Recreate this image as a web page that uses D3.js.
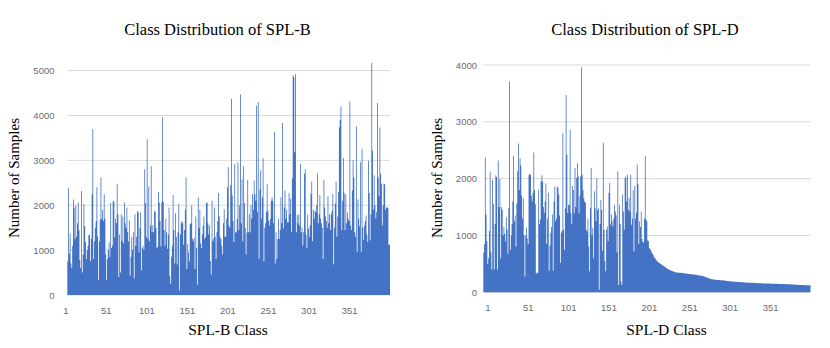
<!DOCTYPE html>
<html>
<head>
<meta charset="utf-8">
<script src="https://cdn.jsdelivr.net/npm/d3@7"></script>
<style>
  html, body { margin: 0; padding: 0; background: #ffffff; }
  svg { display: block; }
</style>
</head>
<body>
<svg id="chart" width="830" height="348"></svg>
<script>
// ---------------- DATA ----------------
const xTickLabels = [1, 51, 101, 151, 201, 251, 301, 351];
const splbYTicks = [0, 1000, 2000, 3000, 4000, 5000];
const spldYTicks = [0, 1000, 2000, 3000, 4000];

// SPL-B: samples per class (398 classes)
const splbCounts = [
  750, 2380, 920, 1370, 700, 600, 1100, 2130, 1950, 1250,
  2000, 1300, 1600, 2060, 1450, 780, 600, 2320, 500, 900,
  2020, 1540, 1180, 800, 1000, 1100, 1330, 1340, 750, 1250,
  2240, 3700, 800, 1200, 1500, 1650, 2400, 1300, 340, 1200,
  1670, 2620, 1700, 1900, 1650, 2250, 1700, 900, 340, 800,
  1000, 1170, 850, 2050, 1050, 1100, 2100, 2080, 1280, 1700,
  1600, 2480, 1800, 400, 1350, 500, 1800, 1200, 1750, 1150,
  2060, 1600, 1500, 1950, 1400, 1200, 1660, 430, 850, 1300,
  1000, 1400, 370, 1800, 1100, 1300, 1870, 1840, 950, 1500,
  1840, 550, 1050, 1100, 1000, 2800, 2050, 1300, 3470, 1250,
  2420, 1200, 1550, 2870, 1400, 1560, 1400, 1880, 1850, 1500,
  1050, 1080, 2300, 2060, 1650, 1080, 2060, 3960, 2080, 1450,
  1100, 1700, 1400, 1030, 1350, 1950, 420, 250, 850, 1100,
  2220, 1450, 700, 1820, 1300, 680, 1400, 2030, 100, 1350,
  1600, 1650, 1600, 1120, 1450, 1900, 2620, 580, 1130, 950,
  750, 1580, 1600, 2000, 1250, 1200, 1280, 580, 1750, 1050,
  230, 2180, 1500, 1900, 1150, 1050, 1350, 1550, 1750, 1250,
  1300, 2050, 2060, 1600, 1350, 1550, 760, 450, 2100, 1200,
  1260, 1950, 1300, 800, 1400, 1650, 2270, 1750, 1300, 1250,
  1100, 900, 1600, 1910, 1300, 1300, 1700, 2400, 2850, 1550,
  1500, 2450, 4370, 2220, 1650, 1180, 2920, 1390, 1400, 1700,
  2950, 1450, 2000, 4470, 1600, 2580, 1200, 2870, 2050, 1500,
  900, 1390, 2560, 1400, 1800, 1400, 2000, 1700, 2250, 1900,
  2550, 2240, 2100, 4220, 1850, 4300, 800, 2350, 2780, 1700,
  2180, 3050, 750, 1500, 1600, 1850, 2480, 1880, 1650, 1550,
  1700, 2100, 2180, 2100, 1600, 3630, 700, 1400, 800, 1250,
  1700, 1250, 1450, 2180, 1600, 3830, 1480, 1950, 2330, 1700,
  1900, 1620, 1620, 2270, 1800, 2150, 1400, 2600, 4900, 4850,
  3180, 4920, 1400, 1780, 1600, 1800, 1550, 2920, 1400, 1500,
  1100, 1400, 2700, 2800, 1350, 1050, 1800, 1480, 1300, 1550,
  2250, 2530, 1200, 1900, 1700, 1880, 1850, 2000, 2700, 1600,
  1800, 2230, 1700, 1600, 1500, 800, 2560, 1950, 1750, 1650,
  1500, 2200, 1600, 1800, 1450, 1800, 1870, 2250, 680, 1500,
  2040, 2530, 1300, 1750, 2300, 3740, 3900, 4200, 1450, 2100,
  3050, 2280, 1450, 2240, 1600, 1830, 1700, 1650, 4310, 1550,
  1450, 2330, 3010, 2620, 1400, 1300, 3760, 960, 2130, 1700,
  1530, 2960, 960, 3260, 1500, 1230, 1550, 1650, 1770, 1350,
  1180, 2990, 2270, 1220, 1800, 5170, 3220, 1900, 2670, 2000,
  1710, 1850, 4280, 2620, 2200, 3730, 2700, 2480, 1550, 2000,
  2480, 2470, 1900, 1950, 1950, 1950, 1120, 1120
];

// SPL-D: samples per class (405 classes)
const spldCounts = [
  700, 850, 2370, 1370, 900, 500, 600, 1080, 2120, 700,
  400, 1980, 1550, 400, 1200, 2060, 2030, 400, 2320, 1500,
  2000, 600, 1500, 1450, 1000, 1150, 1030, 900, 1320, 1100,
  680, 1480, 3710, 750, 1000, 1200, 1600, 2400, 1250, 1350,
  800, 1560, 2130, 2620, 1800, 2360, 2230, 1700, 1300, 1650,
  1000, 280, 1000, 1140, 950, 850, 2060, 2090, 2070, 1700,
  1600, 1750, 2460, 1800, 1550, 330, 350, 340, 1800, 1200,
  1280, 1950, 2060, 1950, 1500, 1400, 1600, 1920, 850, 1300,
  1750, 380, 820, 1050, 1150, 1370, 380, 1600, 1860, 1250,
  1300, 1860, 1840, 1720, 1350, 520, 1050, 1080, 2800, 1100,
  750, 1480, 3470, 2420, 1400, 1540, 1540, 2860, 1390, 1200,
  1870, 1800, 1390, 2190, 1500, 2010, 2270, 2040, 1390, 1700,
  2040, 3960, 2070, 1800, 1650, 1600, 1570, 1100, 1070, 1300,
  800, 370, 1480, 2190, 1000, 1130, 600, 1780, 1480, 1250,
  2010, 1450, 1480, 50, 1200, 1630, 1450, 730, 2630, 1100,
  550, 370, 1100, 1160, 900, 1750, 1930, 1190, 1370, 1250,
  1160, 1300, 1540, 1420, 1350, 700, 2130, 130, 1540, 1200,
  190, 130, 1720, 1420, 1100, 2010, 2040, 1600, 2070, 1450,
  1660, 1420, 2070, 1190, 1300, 1800, 720, 1870, 1300, 1400,
  2250, 1900, 850, 1250, 1150, 1420, 940, 880, 880, 1300,
  2400, 1280, 1250, 910,
  900, 780, 760, 740, 700, 680, 650, 620, 600, 580,
  560, 545, 530, 520, 510, 500, 490, 480, 470, 460,
  450, 440, 430, 420, 410, 400, 395, 390, 385, 380,
  372, 365, 360, 355, 352, 350,
  348, 346, 345, 344, 342, 340, 338, 336, 334, 333,
  332, 330, 328, 326, 324, 322, 320, 318, 316, 315,
  314, 312, 310, 308, 305, 302, 300, 297, 294, 292,
  290, 286, 282, 278, 272, 266, 260, 255, 250, 245,
  240, 235, 230, 228, 226, 224, 222, 220, 219, 218,
  217, 216, 215, 214, 213, 212, 210, 208, 206, 204,
  202, 200, 198, 196, 195, 194, 193, 192, 190, 188,
  187, 186, 185, 184, 183, 182, 181, 180, 179, 178,
  177, 176, 175, 174, 173, 172, 171, 170, 170, 169,
  168, 168, 167, 166, 165, 165, 164, 163, 162, 162,
  161, 160, 160, 159, 158, 158, 157, 157, 156, 156,
  155, 155, 154, 154, 153, 153, 152, 152, 151, 151,
  150, 150, 149, 149, 148, 148, 147, 147, 146, 146,
  145, 145, 144, 144, 143, 143, 142, 142, 141, 141,
  140, 139, 138, 137, 136, 135, 134, 133, 132, 131,
  130, 130, 129, 129, 128, 128, 127, 127, 126, 126,
  125, 125, 124, 124, 123
];

// ---------------- DRAW ----------------
const svg = d3.select("#chart");
const BAR = "#4472c4";
const GRID = "#d9d9d9";
const TICKCOL = "#6b6b6b";
const SERIF = "'Liberation Serif', 'Times New Roman', serif";
const SANS = "'Liberation Sans', Arial, sans-serif";

function drawPanel(cfg) {
  const cats = cfg.values.map((d, i) => i + 1);
  const x = d3.scaleBand().domain(cats).range([cfg.left, cfg.right]).padding(0);
  const y = d3.scaleLinear().domain([0, cfg.yMax]).range([cfg.bottom, cfg.top]);
  const g = svg.append("g");

  // gridlines
  g.append("g").selectAll("line").data(cfg.yTicks).join("line")
    .attr("x1", cfg.left).attr("x2", cfg.right)
    .attr("y1", d => y(d)).attr("y2", d => y(d))
    .attr("stroke", GRID).attr("stroke-width", 1);

  // bars: every class is one rectangle; all rectangles go into one path so
  // that abutting sub-pixel bars rasterise as a seamless filled body
  const p = d3.path();
  cfg.values.forEach((d, i) => {
    p.rect(x(cats[i]), y(d), x.bandwidth(), y(0) - y(d));
  });
  g.append("path").attr("class", "bars").attr("d", p.toString()).attr("fill", BAR);

  // y axis labels
  const ya = g.append("g")
    .attr("transform", `translate(${cfg.left},0)`)
    .call(d3.axisLeft(y).tickValues(cfg.yTicks).tickSize(0).tickPadding(cfg.yPad).tickFormat(d3.format("d")));
  ya.select(".domain").remove();
  ya.selectAll("text").attr("font-family", SANS).attr("font-size", 9.5).attr("fill", TICKCOL);

  // x axis labels
  const xa = g.append("g")
    .attr("transform", `translate(${cfg.xLabelShift},${cfg.bottom})`)
    .call(d3.axisBottom(x).tickValues(xTickLabels).tickSize(0).tickPadding(12));
  xa.select(".domain").remove();
  xa.selectAll("text").attr("font-family", SANS).attr("font-size", 9.5).attr("fill", TICKCOL);

  // title
  g.append("text").attr("x", cfg.titleX).attr("y", 35)
    .attr("text-anchor", "middle").attr("font-family", SERIF).attr("font-size", 16.5)
    .attr("fill", "#000").text(cfg.title);

  // x title
  g.append("text").attr("x", cfg.xTitleX).attr("y", 335)
    .attr("text-anchor", "middle").attr("font-family", SERIF).attr("font-size", 15.5)
    .attr("fill", "#000").text(cfg.xTitle);

  // y title
  g.append("text")
    .attr("transform", `translate(${cfg.yTitleX},178) rotate(-90)`)
    .attr("text-anchor", "middle").attr("font-family", SERIF).attr("font-size", 15)
    .attr("fill", "#000").text("Number of Samples");
}

drawPanel({
  values: splbCounts, left: 67.3, right: 390, top: 70.6, bottom: 295, yMax: 5000,
  yTicks: splbYTicks, yPad: 12.8, xLabelShift: -2,
  title: "Class Distribution of SPL-B", titleX: 217.5,
  xTitle: "SPL-B Class", xTitleX: 228, yTitleX: 19
});

drawPanel({
  values: spldCounts, left: 483.3, right: 810.5, top: 65, bottom: 292.3, yMax: 4000,
  yTicks: spldYTicks, yPad: 6.3, xLabelShift: 4,
  title: "Class Distribution of SPL-D", titleX: 645,
  xTitle: "SPL-D Class", xTitleX: 666.5, yTitleX: 442
});
</script>
</body>
</html>
